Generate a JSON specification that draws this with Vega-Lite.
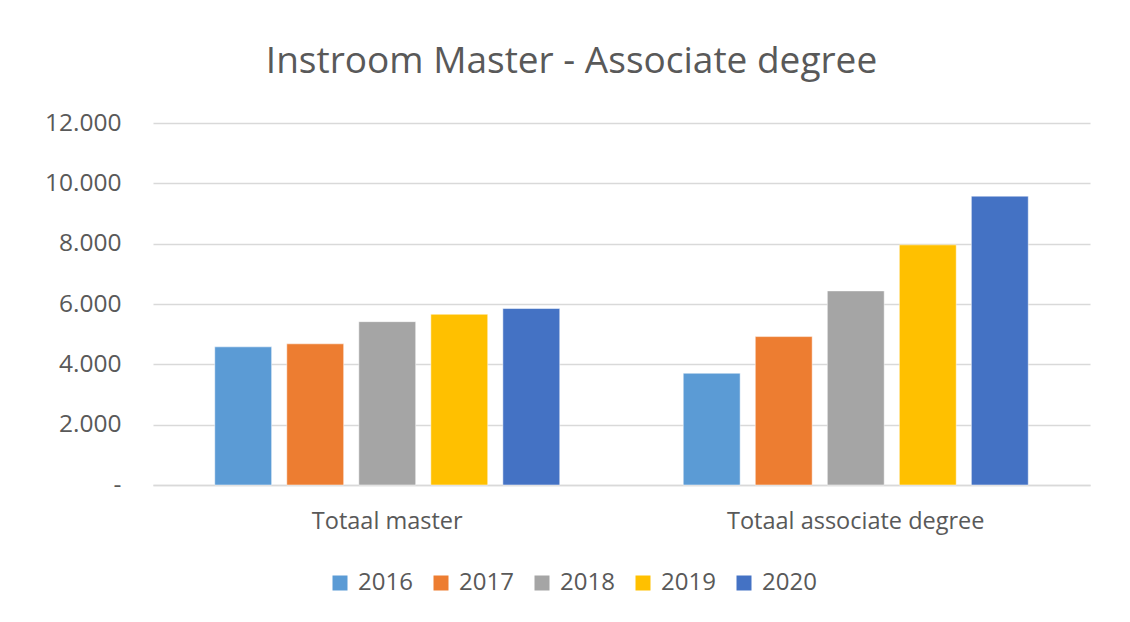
{
  "$schema": "https://vega.github.io/schema/vega-lite/v6.json",
  "width": 937,
  "height": 362,
  "autosize": {"type": "none"},
  "padding": {"left": 153, "top": 123, "right": 40, "bottom": 137},
  "background": "white",
  "title": {
    "text": "Instroom Master - Associate degree",
    "font": "Open Sans",
    "fontSize": 37,
    "fontWeight": "normal",
    "color": "#595959",
    "anchor": "middle",
    "dx": -50,
    "offset": 29
  },
  "data": {
    "values": [
      {"categorie": "Totaal master", "jaar": "2016", "instroom": 4580},
      {"categorie": "Totaal master", "jaar": "2017", "instroom": 4680},
      {"categorie": "Totaal master", "jaar": "2018", "instroom": 5415},
      {"categorie": "Totaal master", "jaar": "2019", "instroom": 5660},
      {"categorie": "Totaal master", "jaar": "2020", "instroom": 5850},
      {"categorie": "Totaal associate degree", "jaar": "2016", "instroom": 3705},
      {"categorie": "Totaal associate degree", "jaar": "2017", "instroom": 4920},
      {"categorie": "Totaal associate degree", "jaar": "2018", "instroom": 6435},
      {"categorie": "Totaal associate degree", "jaar": "2019", "instroom": 7960},
      {"categorie": "Totaal associate degree", "jaar": "2020", "instroom": 9575}
    ]
  },
  "mark": {"type": "bar", "stroke": "white", "strokeWidth": 0.5},
  "encoding": {
    "x": {
      "field": "categorie",
      "type": "nominal",
      "sort": ["Totaal master", "Totaal associate degree"],
      "scale": {"paddingInner": 0.2636, "paddingOuter": 0.1318},
      "axis": {
        "title": null,
        "labelAngle": 0,
        "labelFont": "Open Sans",
        "labelFontSize": 23.5,
        "labelColor": "#595959",
        "labelPadding": 24,
        "labelLimit": 0,
        "ticks": false,
        "domain": true,
        "domainColor": "#d9d9d9",
        "domainWidth": 1.5,
        "grid": false
      }
    },
    "xOffset": {
      "field": "jaar",
      "type": "nominal",
      "scale": {"paddingInner": 0.21, "paddingOuter": 0}
    },
    "y": {
      "field": "instroom",
      "type": "quantitative",
      "scale": {"domain": [0, 12000], "nice": false},
      "axis": {
        "title": null,
        "values": [0, 2000, 4000, 6000, 8000, 10000, 12000],
        "labelExpr": "datum.value == 0 ? '-' : replace(format(datum.value, ',.0f'), ',', '.')",
        "labelFont": "Open Sans",
        "labelFontSize": 24.5,
        "labelColor": "#595959",
        "labelPadding": 32,
        "ticks": false,
        "domain": false,
        "grid": true,
        "gridColor": "#d9d9d9",
        "gridWidth": 1.5
      }
    },
    "color": {
      "field": "jaar",
      "type": "nominal",
      "scale": {
        "domain": ["2016", "2017", "2018", "2019", "2020"],
        "range": ["#5B9BD5", "#ED7D31", "#A5A5A5", "#FFC000", "#4472C4"]
      },
      "legend": {
        "title": null,
        "orient": "none",
        "direction": "horizontal",
        "legendX": 175,
        "legendY": 448,
        "symbolType": "square",
        "symbolSize": 225,
        "symbolStrokeWidth": 0,
        "labelFont": "Open Sans",
        "labelFontSize": 24,
        "labelColor": "#595959",
        "labelOffset": 6,
        "columnPadding": 16
      }
    }
  },
  "config": {"view": {"stroke": null}}
}
